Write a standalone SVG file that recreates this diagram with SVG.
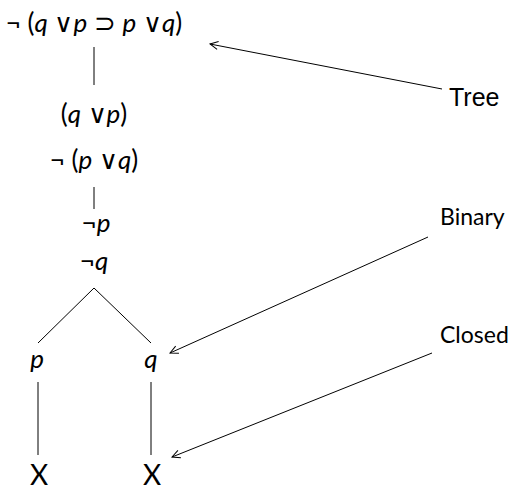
<svg xmlns="http://www.w3.org/2000/svg" width="521" height="490" viewBox="0 0 521 490">
<style>
.f{font-family:"Lato","Open Sans","Liberation Sans",sans-serif;font-size:26px;fill:#000;text-anchor:middle}
.i{font-style:italic}
.x{font-size:28px}
.lbl{font-family:"Lato","Liberation Sans",sans-serif;font-size:23px;fill:#000}
.tree{font-family:"Liberation Sans","DejaVu Sans",sans-serif;font-size:25px;fill:#000}
.ln{stroke:#000;stroke-width:1;fill:none}
</style>
<defs>
<marker id="ah" markerWidth="10" markerHeight="10" refX="9" refY="5" orient="auto" markerUnits="userSpaceOnUse">
<path d="M1,1 L9,5 L1,9" fill="none" stroke="#000" stroke-width="1"/>
</marker>
</defs>
<g id="n1"><text class="f" x="94" y="32">¬ (<tspan class="i">q</tspan> ∨<tspan class="i">p</tspan> ⊃ <tspan class="i">p</tspan> ∨<tspan class="i">q</tspan>)</text></g>
<g id="n2"><text class="f" x="94" y="123">(<tspan class="i">q</tspan> ∨<tspan class="i">p</tspan>)</text></g>
<g id="n3"><text class="f" x="94" y="169">¬ (<tspan class="i">p</tspan> ∨<tspan class="i">q</tspan>)</text></g>
<g id="n4"><text class="f" x="96" y="232">¬<tspan class="i">p</tspan></text></g>
<g id="n5"><text class="f" x="94" y="270">¬<tspan class="i">q</tspan></text></g>
<g id="n6"><text class="f i" x="37" y="368">p</text></g>
<g id="n7"><text class="f i" x="151" y="368">q</text></g>
<g id="n8"><text class="f x" x="39" y="485">X</text></g>
<g id="n9"><text class="f x" x="152" y="485">X</text></g>
<g id="lTree"><text class="tree" x="449" y="106">Tree</text></g>
<g id="lBinary"><text class="lbl" x="440" y="225">Binary</text></g>
<g id="lClosed"><text class="lbl" x="440" y="343">Closed</text></g>
<g id="connectors">
<line class="ln" x1="94" y1="47" x2="94" y2="85"/>
<line class="ln" x1="94" y1="187" x2="94" y2="209"/>
<line class="ln" x1="94" y1="288" x2="38" y2="343"/>
<line class="ln" x1="94" y1="288" x2="151" y2="343"/>
<line class="ln" x1="38" y1="382" x2="38" y2="455"/>
<line class="ln" x1="151" y1="382" x2="151" y2="455"/>
<line class="ln" x1="442" y1="89" x2="210" y2="44" marker-end="url(#ah)"/>
<line class="ln" x1="428" y1="237" x2="170" y2="353" marker-end="url(#ah)"/>
<line class="ln" x1="432" y1="353" x2="172" y2="457" marker-end="url(#ah)"/>
</g>
</svg>
